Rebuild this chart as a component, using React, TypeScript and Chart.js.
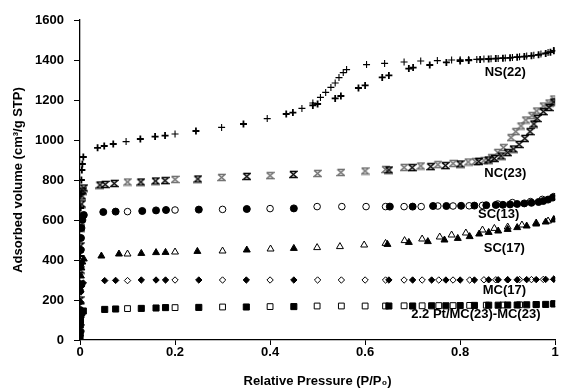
import React, { useEffect, useRef } from 'react';
import { Chart, registerables } from 'chart.js';

Chart.register(...registerables);

// ---------- data (relative pressure P/P0, adsorbed volume cm3/g STP) ----------
const nsAdsP = [0.0001, 0.0003, 0.0006, 0.001, 0.0015, 0.002, 0.003, 0.004, 0.005, 0.007, 0.037, 0.051, 0.070, 0.127, 0.158, 0.179, 0.244, 0.344, 0.434, 0.448, 0.490, 0.500, 0.537, 0.549, 0.586, 0.600, 0.636, 0.650, 0.692, 0.701, 0.736, 0.771, 0.800, 0.818, 0.842, 0.860, 0.875, 0.890, 0.905, 0.920, 0.935, 0.950, 0.965, 0.980, 0.990, 0.997];
const nsAdsV = [80, 250, 420, 560, 660, 730, 800, 850, 880, 915, 961, 970, 980, 1005, 1017, 1022, 1045, 1080, 1130, 1137, 1173, 1180, 1208, 1220, 1260, 1273, 1313, 1323, 1357, 1362, 1375, 1388, 1395, 1398, 1403, 1405, 1407, 1409, 1411, 1414, 1417, 1421, 1426, 1433, 1439, 1446];
const nsDesP = [0.997, 0.985, 0.970, 0.955, 0.940, 0.925, 0.910, 0.895, 0.880, 0.865, 0.850, 0.835, 0.818, 0.800, 0.782, 0.752, 0.717, 0.682, 0.641, 0.603, 0.561, 0.554, 0.545, 0.537, 0.528, 0.517, 0.506, 0.490, 0.467, 0.394, 0.298, 0.200, 0.097];
const nsDesV = [1447, 1438, 1430, 1424, 1420, 1416, 1413, 1410, 1408, 1406, 1405, 1403, 1402, 1401, 1400, 1397, 1395, 1390, 1383, 1377, 1352, 1337, 1312, 1285, 1263, 1238, 1213, 1185, 1158, 1107, 1063, 1030, 992];

const ncAdsP = [0.0001, 0.0003, 0.0006, 0.001, 0.0015, 0.002, 0.003, 0.004, 0.006, 0.008, 0.042, 0.053, 0.072, 0.128, 0.159, 0.179, 0.248, 0.351, 0.449, 0.650, 0.699, 0.738, 0.769, 0.800, 0.839, 0.859, 0.872, 0.886, 0.900, 0.912, 0.924, 0.936, 0.947, 0.955, 0.962, 0.975, 0.987, 0.997];
const ncAdsV = [60, 200, 350, 470, 560, 620, 680, 720, 745, 760, 775, 778, 783, 790, 795, 797, 805, 818, 828, 850, 862, 867, 872, 880, 893, 900, 908, 920, 937, 955, 978, 1008, 1042, 1080, 1108, 1142, 1163, 1190];
const ncDesP = [0.997, 0.987, 0.975, 0.961, 0.951, 0.938, 0.928, 0.917, 0.907, 0.891, 0.879, 0.866, 0.850, 0.832, 0.817, 0.785, 0.753, 0.717, 0.682, 0.643, 0.600, 0.549, 0.500, 0.400, 0.298, 0.200, 0.100];
const ncDesV = [1205, 1185, 1170, 1145, 1122, 1100, 1070, 1042, 1012, 962, 938, 912, 897, 892, 890, 883, 877, 870, 863, 853, 845, 838, 833, 822, 813, 803, 790];

const sc13AdsP = [0.0001, 0.0003, 0.0006, 0.001, 0.0015, 0.002, 0.003, 0.005, 0.008, 0.049, 0.075, 0.131, 0.160, 0.181, 0.250, 0.351, 0.450, 0.652, 0.700, 0.743, 0.771, 0.802, 0.830, 0.855, 0.875, 0.890, 0.905, 0.920, 0.935, 0.950, 0.965, 0.975, 0.985, 0.995];
const sc13AdsV = [40, 150, 280, 380, 450, 510, 560, 600, 625, 640, 642, 645, 648, 650, 652, 655, 658, 667, 667, 670, 670, 671, 672, 674, 675, 676, 678, 680, 683, 686, 690, 695, 702, 712];
const sc13DesP = [0.100, 0.200, 0.300, 0.400, 0.499, 0.551, 0.602, 0.643, 0.682, 0.718, 0.753, 0.785, 0.819, 0.847, 0.879, 0.910, 0.948, 0.973, 0.997];
const sc13DesV = [642, 650, 653, 657, 667, 667, 667, 667, 667, 667, 670, 670, 671, 673, 680, 687, 692, 703, 717];

const sc17AdsP = [0.0001, 0.0003, 0.0006, 0.001, 0.002, 0.003, 0.005, 0.008, 0.045, 0.082, 0.129, 0.160, 0.180, 0.247, 0.351, 0.450, 0.647, 0.692, 0.732, 0.767, 0.795, 0.820, 0.840, 0.860, 0.880, 0.900, 0.920, 0.940, 0.960, 0.980, 0.997];
const sc17AdsV = [30, 110, 190, 250, 320, 360, 390, 405, 420, 430, 433, 437, 438, 443, 450, 458, 478, 488, 492, 500, 508, 517, 530, 538, 545, 553, 562, 570, 580, 590, 600];
const sc17DesP = [0.100, 0.200, 0.300, 0.401, 0.499, 0.547, 0.598, 0.643, 0.683, 0.720, 0.757, 0.782, 0.812, 0.847, 0.872, 0.900, 0.930, 0.960, 0.985, 0.997];
const sc17DesV = [430, 440, 445, 455, 462, 467, 475, 483, 497, 505, 515, 525, 535, 550, 558, 565, 575, 585, 595, 603];

const mc17AdsP = [0.0001, 0.0003, 0.0006, 0.001, 0.002, 0.004, 0.007, 0.052, 0.075, 0.129, 0.160, 0.180, 0.250, 0.350, 0.450, 0.650, 0.700, 0.740, 0.770, 0.800, 0.830, 0.860, 0.880, 0.900, 0.920, 0.940, 0.960, 0.980, 0.997];
const mc17AdsV = [20, 80, 140, 190, 240, 270, 285, 297, 298, 300, 300, 300, 300, 300, 300, 300, 300, 300, 300, 300, 300, 301, 301, 301, 301, 302, 302, 303, 304];
const mc17DesP = [0.100, 0.200, 0.300, 0.400, 0.500, 0.550, 0.600, 0.643, 0.682, 0.720, 0.755, 0.785, 0.820, 0.850, 0.875, 0.900, 0.925, 0.950, 0.975, 0.997];
const mc17DesV = [297, 300, 300, 300, 300, 300, 300, 300, 300, 300, 300, 300, 300, 301, 301, 301, 302, 302, 303, 304];

const ptAdsP = [0.0001, 0.0003, 0.0006, 0.001, 0.002, 0.004, 0.007, 0.052, 0.075, 0.129, 0.160, 0.180, 0.250, 0.350, 0.450, 0.650, 0.700, 0.740, 0.770, 0.800, 0.830, 0.860, 0.880, 0.900, 0.920, 0.940, 0.960, 0.980, 0.997];
const ptAdsV = [10, 40, 75, 100, 125, 138, 145, 153, 155, 158, 160, 162, 163, 165, 167, 170, 170, 171, 171, 172, 173, 174, 174, 175, 175, 176, 177, 178, 180];
const ptDesP = [0.100, 0.200, 0.300, 0.400, 0.499, 0.550, 0.600, 0.643, 0.682, 0.720, 0.755, 0.785, 0.820, 0.855, 0.890, 0.925, 0.960, 0.997];
const ptDesV = [157, 162, 165, 167, 170, 170, 170, 170, 171, 171, 172, 172, 173, 174, 175, 176, 178, 182];

// sample labels (text and anchor in data units)
const sampleLabels = ['NS(22)', 'NC(23)', 'SC(13)', 'SC(17)', 'MC(17)', '2.2 Pt/MC(23)-MC(23)'];
const sampleLabelP = [0.895, 0.895, 0.881, 0.893, 0.893, 0.833];
const sampleLabelV = [1337, 835, 630, 460, 250, 130];

const xTicks = [0, 0.2, 0.4, 0.6, 0.8, 1];
const yTicks = [0, 200, 400, 600, 800, 1000, 1200, 1400, 1600];

const FONT = '"Liberation Sans", Arial, sans-serif';

const pts = (p: number[], v: number[]) => p.map((x, i) => ({ x, y: v[i] }));

function hourglass(color: string): HTMLCanvasElement {
  const c = document.createElement('canvas');
  c.width = 9;
  c.height = 9;
  const g = c.getContext('2d')!;
  g.strokeStyle = color;
  g.lineWidth = 1.4;
  g.beginPath();
  g.moveTo(1, 1.5);
  g.lineTo(8, 1.5);
  g.lineTo(1, 7.5);
  g.lineTo(8, 7.5);
  g.lineTo(1, 1.5);
  g.stroke();
  return c;
}

const labelPlugin = {
  id: 'sampleLabels',
  afterDatasetsDraw(chart: any) {
    const { ctx, scales } = chart;
    ctx.save();
    ctx.font = `bold 13px ${FONT}`;
    ctx.fillStyle = '#000';
    ctx.textAlign = 'center';
    ctx.textBaseline = 'middle';
    sampleLabels.forEach((t, i) => {
      ctx.fillText(t, scales.x.getPixelForValue(sampleLabelP[i]), scales.y.getPixelForValue(sampleLabelV[i]));
    });
    ctx.restore();
  },
};

export default function App() {
  const ref = useRef<HTMLCanvasElement>(null);
  useEffect(() => {
    if (!ref.current) return;
    const ncBlack = hourglass('#000000');
    const ncGrey = hourglass('#6e6e6e');
    const filled = (label: string, data: any, style: any, r: number) => ({
      label, data, pointStyle: style, pointRadius: r, pointBackgroundColor: '#000', pointBorderColor: '#000', pointBorderWidth: 1, showLine: false,
    });
    const open = (label: string, data: any, style: any, r: number) => ({
      label, data, pointStyle: style, pointRadius: r, pointBackgroundColor: '#fff', pointBorderColor: '#000', pointBorderWidth: 1, showLine: false,
    });
    const tickFont = { family: FONT, size: 13, weight: 'bold' };
    const chart = new Chart(ref.current, {
      type: 'scatter',
      data: {
        datasets: [
          { label: 'NS(22) ads', data: pts(nsAdsP, nsAdsV), pointStyle: 'cross', pointRadius: 3.5, pointBorderColor: '#000', pointBorderWidth: 1.8, showLine: false },
          { label: 'NS(22) des', data: pts(nsDesP, nsDesV), pointStyle: 'cross', pointRadius: 3.5, pointBorderColor: '#000', pointBorderWidth: 1.1, showLine: false },
          { label: 'NC(23) ads', data: pts(ncAdsP, ncAdsV), pointStyle: ncBlack, pointRadius: 4, showLine: false },
          { label: 'NC(23) des', data: pts(ncDesP, ncDesV), pointStyle: ncGrey, pointRadius: 4, showLine: false },
          filled('SC(13) ads', pts(sc13AdsP, sc13AdsV), 'circle', 3.5),
          open('SC(13) des', pts(sc13DesP, sc13DesV), 'circle', 3.3),
          filled('SC(17) ads', pts(sc17AdsP, sc17AdsV), 'triangle', 4),
          open('SC(17) des', pts(sc17DesP, sc17DesV), 'triangle', 4),
          filled('MC(17) ads', pts(mc17AdsP, mc17AdsV), 'rectRot', 3.2),
          open('MC(17) des', pts(mc17DesP, mc17DesV), 'rectRot', 3.2),
          filled('Pt ads', pts(ptAdsP, ptAdsV), 'rect', 4.3),
          open('Pt des', pts(ptDesP, ptDesV), 'rect', 4.1),
        ] as any,
      },
      options: {
        responsive: false,
        animation: false,
        devicePixelRatio: 1,
        layout: { padding: { top: 20, right: 3, left: 0, bottom: 0 } },
        plugins: { legend: { display: false }, tooltip: { enabled: false } },
        scales: {
          x: {
            type: 'linear',
            min: 0,
            max: 1,
            afterFit: (s: any) => { s.height = 49; },
            afterBuildTicks: (s: any) => { s.ticks = xTicks.map((v) => ({ value: v })); },
            ticks: {
              color: '#000',
              font: tickFont,
              padding: 0,
              maxRotation: 0,
              callback: (v: any) => String(Number(v)),
            },
            grid: { drawOnChartArea: false, drawTicks: true, tickLength: 5, color: '#000', tickColor: '#000' },
            border: { display: true, color: '#000', width: 1.3 },
            title: {
              display: true,
              text: 'Relative Pressure (P/P\u2080)',
              color: '#000',
              font: tickFont,
              padding: { top: 0, bottom: 0 },
            },
          },
          y: {
            type: 'linear',
            min: 0,
            max: 1600,
            afterFit: (s: any) => { s.width = 80; },
            afterBuildTicks: (s: any) => { s.ticks = yTicks.map((v) => ({ value: v })); },
            ticks: {
              color: '#000',
              font: tickFont,
              padding: 10,
              callback: (v: any) => String(Number(v)),
            },
            grid: { drawOnChartArea: false, drawTicks: true, tickLength: 6, color: '#000', tickColor: '#000' },
            border: { display: true, color: '#000', width: 1.3 },
            title: {
              display: true,
              text: 'Adsorbed volume (cm\u00b3/g STP)',
              color: '#000',
              font: tickFont,
              padding: { top: 11, bottom: 0 },
            },
          },
        },
      } as any,
      plugins: [labelPlugin],
    });
    return () => chart.destroy();
  }, []);
  return (
    <div style={{ position: 'fixed', left: 0, top: 0, width: 561, height: 389, background: '#fff' }}>
      <canvas ref={ref} width={561} height={389} style={{ display: 'block' }} />
    </div>
  );
}
